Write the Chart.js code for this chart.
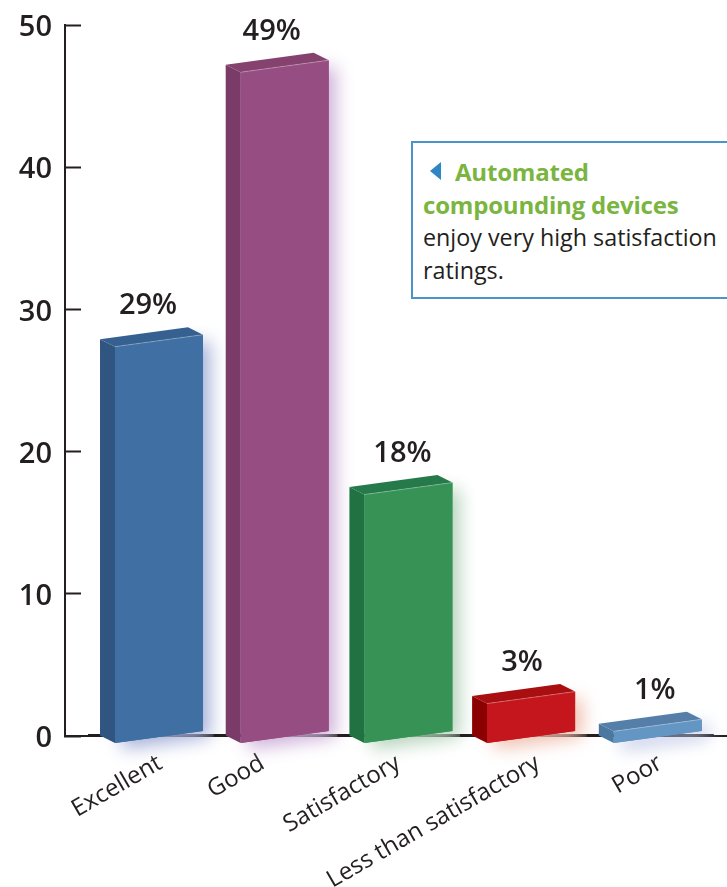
<!DOCTYPE html>
<html>
<head>
<meta charset="utf-8">
<script src="https://cdn.jsdelivr.net/npm/chart.js@4"></script>
<style>
  html, body { margin: 0; padding: 0; background: #fff; }
  #wrap { position: relative; width: 727px; height: 887px; overflow: hidden; }
  canvas { display: block; }
  #note {
    position: absolute; left: 411px; top: 141px;
    border: 2px solid #4a94cc; background: #fff; box-sizing: content-box;
    padding: 13px 0 0 10px; height: 141px; width: 320px;
    font: 400 23.3px/32.7px "Open Sans", sans-serif; color: #231f20;
  }
  #note b { color: #7ab540; font-weight: 700; font-size: 24px; letter-spacing: -0.2px; }
  #note i {
    display: inline-block; width: 0; height: 0; margin: 0 14px 1px 7px;
    border-top: 9px solid transparent; border-bottom: 9px solid transparent;
    border-right: 11px solid #2e86c6;
  }
</style>
</head>
<body>
<div id="wrap">
  <canvas id="myChart" width="727" height="887"></canvas>
  <div id="note"><i></i><b>Automated<br>compounding devices</b><br>enjoy very high satisfaction<br>ratings.</div>
</div>
<script>
const categories = ['Excellent', 'Good', 'Satisfactory', 'Less than satisfactory', 'Poor'];
const percentLabels = ['29%', '49%', '18%', '3%', '1%'];
// height of the front face
const barValues = [27.8, 47.1, 17.4, 2.7, 0.75];
const yTicks = [0, 10, 20, 30, 40, 50];

const frontColors = ['#3f6fa3', '#964d82', '#369355', '#c4161c', '#6496c3'];
const sideColors = ['#2f5580', '#7a3b68', '#217243', '#8b0000', '#4a78a0'];
const topColors = ['#35608f', '#85426f', '#25794a', '#a90e10', '#557fa8'];
const shadowColors = ['#a6b0d8', '#cdb0d8', '#b4d2ba', '#efbfae', '#b8c0e2'];
// hand placement: the source is not evenly spaced
const labelNudge = [0.01, -0.17, -0.08, 0.04, 0.02];
const boxNudge = [0, 1, 0, -2, 0];
const percentNudge = [-11, -12, -6, -11, -3];

const inkColor = '#231f20';
const numberFont = '600 29px "Open Sans", sans-serif';

function poly(ctx, pts, color) {
    ctx.fillStyle = color;
    ctx.beginPath();
    pts.forEach((p, i) => i ? ctx.lineTo(p[0], p[1]) : ctx.moveTo(p[0], p[1]));
    ctx.closePath();
    ctx.fill();
}

// draws each bar as a box, using the position chart.js gave the bar
const boxBars = {
    id: 'boxBars',
    afterDatasetsDraw(chart) {
        const ctx = chart.ctx;
        const slant = 6, depthX = 15, depthY = 7.5;
        chart.getDatasetMeta(0).data.forEach((bar, i) => {
            const half = bar.width / 2;
            const l = bar.x + boxNudge[i] - half, r = bar.x + boxNudge[i] + half;
            const t = bar.y, b = bar.base + 1.5;
            const front = [[l, t + slant], [r, t - slant], [r, b - slant], [l, b + slant]];
            const side = [[l - depthX, t + slant - depthY], [l, t + slant], [l, b + slant], [l - depthX, b + slant - depthY]];
            const top = [[l - depthX, t + slant - depthY], [r - depthX, t - slant - depthY], [r, t - slant], [l, t + slant]];

            // heavier patch of the baseline under the box
            ctx.save();
            ctx.strokeStyle = inkColor;
            ctx.lineWidth = 3;
            ctx.beginPath();
            ctx.moveTo(l - depthX - 12, bar.base);
            ctx.lineTo(r + 12, bar.base);
            ctx.stroke();
            ctx.restore();

            ctx.save();
            ctx.shadowColor = shadowColors[i];
            ctx.shadowBlur = 18;
            ctx.shadowOffsetX = 7;
            ctx.shadowOffsetY = 6;
            poly(ctx, front, frontColors[i]);
            ctx.restore();

            poly(ctx, side, sideColors[i]);
            poly(ctx, top, topColors[i]);
            poly(ctx, front, frontColors[i]);

            // pale edge where the top meets the front
            ctx.save();
            ctx.strokeStyle = 'rgba(255,255,255,0.3)';
            ctx.lineWidth = 1;
            ctx.beginPath();
            ctx.moveTo(l, t + slant);
            ctx.lineTo(r, t - slant);
            ctx.stroke();
            ctx.restore();

            ctx.save();
            ctx.font = numberFont;
            ctx.fillStyle = inkColor;
            ctx.textAlign = 'center';
            ctx.textBaseline = 'middle';
            ctx.fillText(percentLabels[i], bar.x + percentNudge[i], bar.y - 35);
            ctx.restore();
        });
    }
};

new Chart(document.getElementById('myChart').getContext('2d'), {
    type: 'bar',
    data: {
        datasets: [{
            data: barValues.map((v, i) => ({ x: i, y: v })),
            backgroundColor: 'rgba(0,0,0,0)',
            borderWidth: 0,
            barThickness: 88
        }]
    },
    options: {
        responsive: false,
        animation: false,
        layout: { padding: { top: 25, left: 0, right: 0, bottom: 0 } },
        plugins: { legend: { display: false }, tooltip: { enabled: false } },
        scales: {
            x: {
                type: 'linear',
                offset: false,
                min: -0.754,
                max: 4.555,
                grid: { display: false },
                border: { color: inkColor, width: 2 },
                afterBuildTicks(scale) {
                    scale.ticks = categories.map((c, i) => ({ value: i + labelNudge[i] }));
                },
                afterFit(scale) {
                    scale.height = 151;
                    scale.paddingLeft = 0;
                    scale.paddingRight = 0;
                },
                ticks: {
                    autoSkip: false,
                    maxRotation: 30,
                    minRotation: 30,
                    padding: 5,
                    color: inkColor,
                    font: { family: '"Open Sans", sans-serif', size: 24 },
                    callback: (v, i) => categories[i]
                }
            },
            y: {
                min: 0,
                max: 50,
                afterBuildTicks(scale) {
                    scale.ticks = yTicks.map(v => ({ value: v }));
                },
                afterFit(scale) {
                    scale.width = 65;
                    scale.paddingTop = 0;
                    scale.paddingBottom = 0;
                },
                grid: {
                    display: true,
                    drawOnChartArea: false,
                    drawTicks: true,
                    tickLength: -16,
                    tickColor: inkColor,
                    tickWidth: 2
                },
                border: { color: inkColor, width: 2 },
                ticks: {
                    padding: 29,
                    labelOffset: 3,
                    color: inkColor,
                    font: { family: '"Open Sans", sans-serif', size: 29, weight: '600' }
                }
            }
        }
    },
    plugins: [boxBars]
});
</script>
</body>
</html>
